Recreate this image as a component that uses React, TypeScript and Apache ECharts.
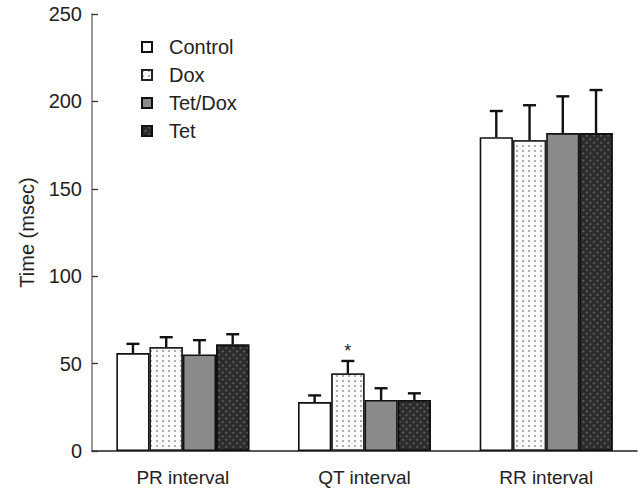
import React, { useEffect, useRef } from "react";
import * as echarts from "echarts";

const categories = ["PR interval", "QT interval", "RR interval"];
const groupNames = ["Control", "Dox", "Tet/Dox", "Tet"];
const controlMean = [56, 28, 179.5];
const controlSD = [5.3, 3.8, 15];
const doxMean = [59.5, 44.3, 177.8];
const doxSD = [5.6, 7.2, 20];
const tetDoxMean = [55.2, 29.2, 181.9];
const tetDoxSD = [8.2, 6.7, 21];
const tetMean = [60.9, 29.2, 181.9];
const tetSD = [5.9, 3.8, 24.6];
const doxSignificance = ["", "*", ""];
const yTicks = [0, 50, 100, 150, 200, 250];

const FONT = "Liberation Sans, Arial, Helvetica, sans-serif";
const BAR_FRAC = 0.183;

export default function App() {
  const ref = useRef<HTMLDivElement>(null);
  useEffect(() => {
    if (!ref.current) return;
    const chart = echarts.init(ref.current, null, { renderer: "svg" });
    const means = [controlMean, doxMean, tetDoxMean, tetMean];
    const sds = [controlSD, doxSD, tetDoxSD, tetSD];
    const styles: any[] = [
      { color: "#ffffff", borderColor: "#111", borderWidth: 1.6 },
      {
        color: "#fbfbfb",
        borderColor: "#222",
        borderWidth: 1.4,
        decal: {
          symbol: "rect",
          symbolSize: 1,
          dashArrayX: [[1.5, 4]],
          dashArrayY: [2, 3],
          color: "rgba(110,110,110,0.55)",
          rotation: 0,
        },
      },
      { color: "#8a8a8a", borderColor: "#111", borderWidth: 1.6 },
      {
        color: "#2c2c2c",
        borderColor: "#111",
        borderWidth: 1.6,
        decal: {
          symbol: "rect",
          symbolSize: 1,
          dashArrayX: [[1.5, 3]],
          dashArrayY: [1.5, 3],
          color: "rgba(95,95,95,0.9)",
          rotation: Math.PI / 4,
        },
      },
    ];
    const barSeries = groupNames.map((name, g) => ({
      name,
      type: "bar",
      data: means[g],
      barWidth: BAR_FRAC * 100 + "%",
      barGap: "0%",
      itemStyle: styles[g],
      z: 2,
    }));
    const errData: any[] = [];
    for (let g = 0; g < 4; g++) {
      for (let c = 0; c < categories.length; c++) {
        errData.push([c, means[g][c], sds[g][c], g]);
      }
    }
    const errSeries = {
      type: "custom",
      name: "err",
      data: errData,
      z: 5,
      silent: true,
      renderItem: (params: any, api: any) => {
        const c = api.value(0);
        const m = api.value(1);
        const s = api.value(2);
        const g = api.value(3);
        const band = api.size([1, 0])[0];
        const bw = band * BAR_FRAC;
        const p0 = api.coord([c, m]);
        const p1 = api.coord([c, m + s]);
        const x = p0[0] + (g - 1.5) * bw;
        const children: any[] = [
          {
            type: "line",
            shape: { x1: x, y1: p0[1], x2: x, y2: p1[1] },
            style: { stroke: "#111", lineWidth: 2.4 },
          },
          {
            type: "line",
            shape: { x1: x - 6.5, y1: p1[1], x2: x + 6.5, y2: p1[1] },
            style: { stroke: "#111", lineWidth: 2.4 },
          },
        ];
        if (g === 1 && doxSignificance[c]) {
          children.push({
            type: "text",
            style: {
              text: doxSignificance[c],
              x: x,
              y: p1[1] - 10,
              align: "center",
              verticalAlign: "middle",
              fontSize: 18,
              fontFamily: FONT,
              fill: "#222",
            },
          });
        }
        return { type: "group", children };
      },
    };
    chart.setOption({
      animation: false,
      backgroundColor: "#ffffff",
      grid: { left: 92, right: 4, top: 14, bottom: 46 },
      legend: {
        data: groupNames,
        orient: "vertical",
        left: 136,
        top: 32,
        icon: "rect",
        itemWidth: 10,
        itemHeight: 10,
        itemGap: 8,
        textStyle: {
          fontSize: 20,
          fontFamily: FONT,
          color: "#222",
          lineHeight: 20,
          padding: [0, 0, 0, 12],
        },
      },
      xAxis: {
        type: "category",
        data: categories,
        axisLine: { lineStyle: { color: "#222", width: 1.5 } },
        axisTick: { inside: true, length: 6, lineStyle: { color: "#222", width: 1.5 } },
        axisLabel: { fontSize: 19, fontFamily: FONT, color: "#222", margin: 17 },
      },
      yAxis: {
        type: "value",
        min: yTicks[0],
        max: yTicks[yTicks.length - 1],
        interval: 50,
        name: "Time (msec)",
        nameLocation: "middle",
        nameGap: 55,
        nameTextStyle: { fontSize: 20, fontFamily: FONT, color: "#222" },
        axisLine: { show: true, lineStyle: { color: "#999", width: 2 } },
        axisTick: { show: true, inside: true, length: 6, lineStyle: { color: "#333", width: 1.3 } },
        axisLabel: { fontSize: 20, fontFamily: FONT, color: "#222", margin: 10 },
        splitLine: { show: false },
      },
      series: [...barSeries, errSeries],
    });
    return () => chart.dispose();
  }, []);
  return (
    <div
      ref={ref}
      style={{ position: "fixed", left: 0, top: 0, width: 641, height: 497, background: "#fff" }}
    />
  );
}
